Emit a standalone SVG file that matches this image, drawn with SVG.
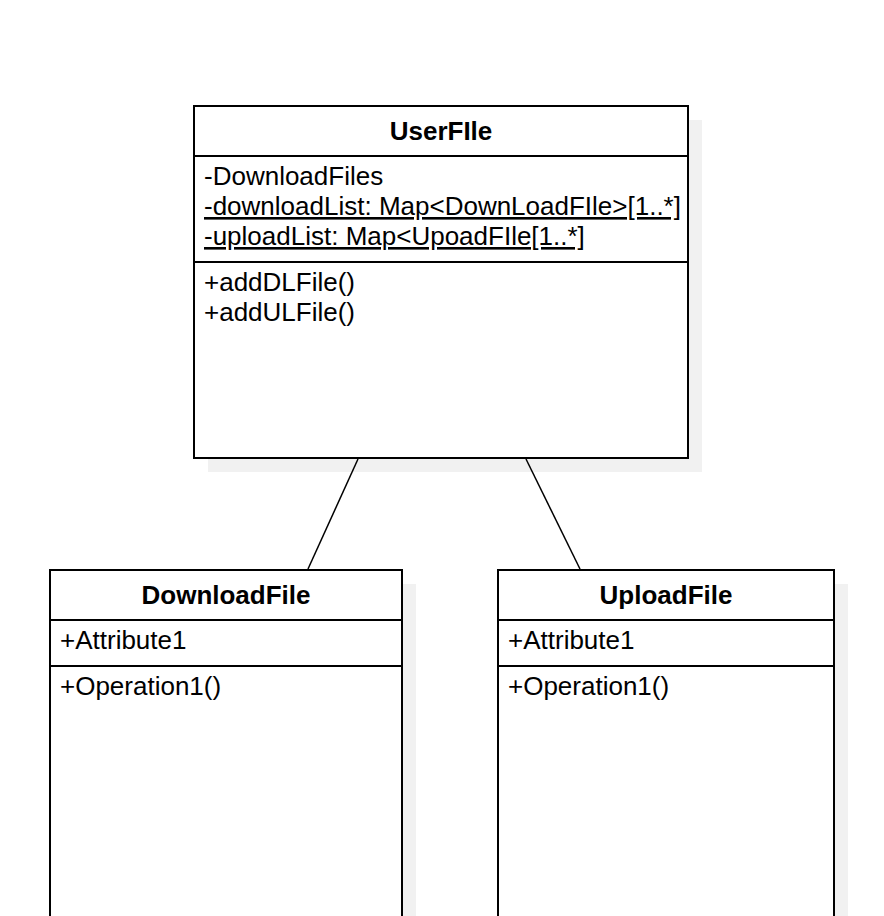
<svg xmlns="http://www.w3.org/2000/svg" width="884" height="916" viewBox="0 0 884 916">
<style>
.shadow{fill:#f1f1f1;stroke:none}
.box{fill:#ffffff;stroke:#000000;stroke-width:2}
.sep{stroke:#000000;stroke-width:2}
.conn{stroke:#000000;stroke-width:1.5;fill:none}
text{font-family:"Liberation Sans",Arial,Helvetica,sans-serif;font-size:26px;fill:#000000}
.title{font-weight:bold;text-anchor:middle}
.ul{text-decoration:underline;text-decoration-skip-ink:none;text-underline-offset:4px}
</style>
<rect x="0" y="0" width="884" height="916" fill="#ffffff"/>
<g id="UserFile">
<rect class="shadow" x="208" y="120" width="494" height="352"/>
<rect class="box" x="194" y="106" width="494" height="352"/>
<line class="sep" x1="194" y1="156" x2="688" y2="156"/>
<line class="sep" x1="194" y1="262" x2="688" y2="262"/>
<text class="title" x="441" y="140">UserFIle</text>
<text x="204" y="185">-DownloadFiles</text>
<text class="ul" x="204" y="215">-downloadList: Map&lt;DownLoadFIle&gt;[1..*]</text>
<text class="ul" x="204" y="245">-uploadList: Map&lt;UpoadFIle[1..*]</text>
<text x="204" y="291">+addDLFile()</text>
<text x="204" y="321">+addULFile()</text>
</g>
<g id="DownloadFile">
<rect class="shadow" x="64" y="584" width="352" height="400"/>
<rect class="box" x="50" y="570" width="352" height="400"/>
<line class="sep" x1="50" y1="620" x2="402" y2="620"/>
<line class="sep" x1="50" y1="666" x2="402" y2="666"/>
<text class="title" x="226" y="604">DownloadFile</text>
<text x="60" y="649">+Attribute1</text>
<text x="60" y="695">+Operation1()</text>
</g>
<g id="UploadFile">
<rect class="shadow" x="512" y="584" width="336" height="400"/>
<rect class="box" x="498" y="570" width="336" height="400"/>
<line class="sep" x1="498" y1="620" x2="834" y2="620"/>
<line class="sep" x1="498" y1="666" x2="834" y2="666"/>
<text class="title" x="666" y="604">UploadFile</text>
<text x="508" y="649">+Attribute1</text>
<text x="508" y="695">+Operation1()</text>
</g>
<g id="connectors">
<line class="conn" x1="358" y1="459" x2="308" y2="569"/>
<line class="conn" x1="526" y1="459" x2="580" y2="569"/>
</g>
</svg>
